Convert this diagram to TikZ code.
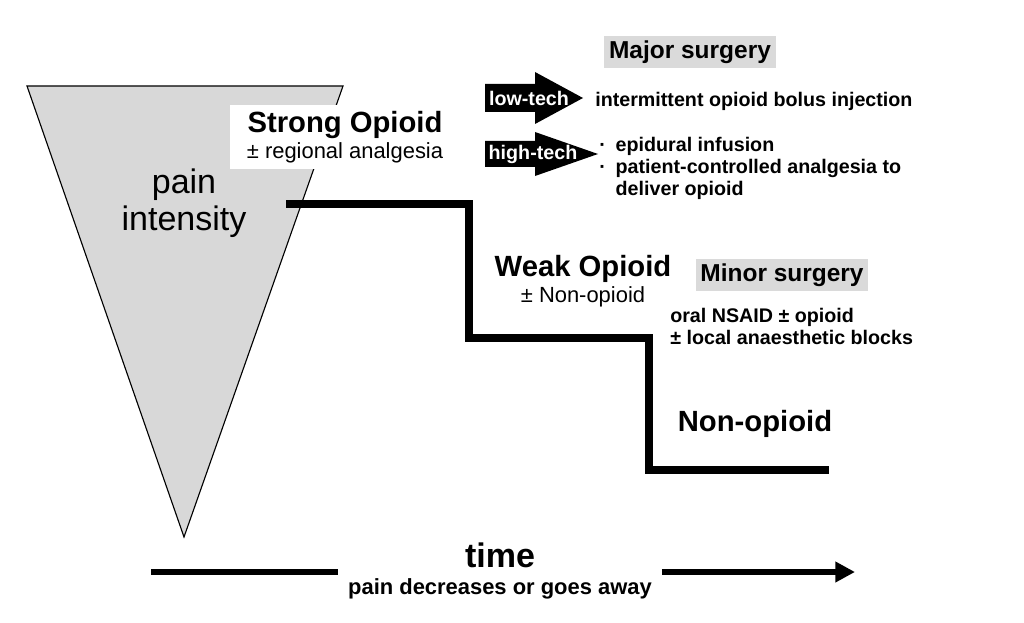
\documentclass[tikz,border=0pt]{standalone}
\usepackage{fontspec}
\setmainfont{Liberation Sans}
\usetikzlibrary{arrows.meta, positioning, calc}
\definecolor{PainGrey}{RGB}{216,216,216}
\definecolor{SurgGrey}{RGB}{218,218,218}
\tikzset{
  steplbl/.style={inner sep=0pt, align=center, font=\fontsize{15.6}{18.5}\selectfont},
  surgbox/.style={rectangle, fill=SurgGrey, minimum width=172*0.7113pt,
                  minimum height=31*0.7113pt, inner sep=0pt,
                  font=\fontsize{17.4}{20}\selectfont\bfseries},
  notelbl/.style={inner sep=0pt, align=left, font=\fontsize{14}{15.6}\selectfont\bfseries},
  techlbl/.style={inner sep=0pt, text=white, font=\fontsize{14}{16}\selectfont\bfseries},
  stair/.style={line width=5.3pt, line join=miter},
  timeline/.style={line width=4.3pt},
}

\begin{document}
\begin{tikzpicture}[x=0.025cm, y=-0.025cm]
      \useasboundingbox (0,0) rectangle (1024,623);

      % pain intensity wedge
      \filldraw[fill=PainGrey, draw=black, line width=0.8pt]
            (27,86) -- (343,86) -- (184,537) -- cycle;
      \node[inner sep=0pt, align=center, font=\fontsize{24.2}{26}\selectfont]
            (pain) at (184,203) {pain\\intensity};

      % analgesic ladder
      \node[steplbl, fill=white, minimum width=230*0.7113pt, minimum height=63*0.7113pt]
            (strong) at (345,137)
            {{\fontsize{20.8}{25}\selectfont\bfseries Strong Opioid}\\± regional analgesia};
      \node[steplbl] (weak) at (583,281)
            {{\fontsize{20.8}{25}\selectfont\bfseries Weak Opioid}\\± Non-opioid};
      \node[steplbl, font=\fontsize{20.8}{25}\selectfont\bfseries] (nonop) at (755,424)
            {Non-opioid};
      \draw[stair] (286,204) -- (469,204) -- (469,338) -- (649,338)
            -- (649,470) -- (829,470);

      % major surgery
      \node[surgbox] (major) at (690,52) {Major surgery};
      \fill (485,84) -- (535,84) -- (535,72) -- (583,98) -- (535,124)
            -- (535,112) -- (485,112) -- cycle;
      \fill (485,141) -- (535,141) -- (535,132) -- (598,154) -- (535,176)
            -- (535,167) -- (485,167) -- cycle;
      \node[techlbl] (low) at (529,98) {low-tech};
      \node[techlbl] (high) at (533,154) {high-tech};
      \node[notelbl, anchor=base west] (bolus) at (595,107)
            {intermittent opioid bolus injection};
      \node[notelbl, anchor=north west] (infus) at (599,137)
            {·\hspace{7pt}epidural infusion\\
             ·\hspace{7pt}patient-controlled analgesia to\\
             \phantom{·}\hspace{7pt}deliver opioid};

      % minor surgery
      \node[surgbox] (minor) at (782,275) {Minor surgery};
      \node[notelbl, anchor=north west] (nsaid) at (670,308)
            {oral NSAID ± opioid\\± local anaesthetic blocks};

      % time axis
      \node[inner xsep=7pt, inner ysep=0pt, align=center,
            font=\fontsize{15.6}{19.5}\selectfont\bfseries] (time) at (500,571)
            {{\fontsize{24.2}{26}\selectfont time}\\pain decreases or goes away};
      \coordinate (tstart) at (151,572);
      \coordinate (tend) at (855,572);
      \draw[timeline] (tstart) -- (tstart -| time.west);
      \draw[timeline, -{Triangle[length=14pt, width=14pt]}] (tend -| time.east) -- (tend);
\end{tikzpicture}
\end{document}
